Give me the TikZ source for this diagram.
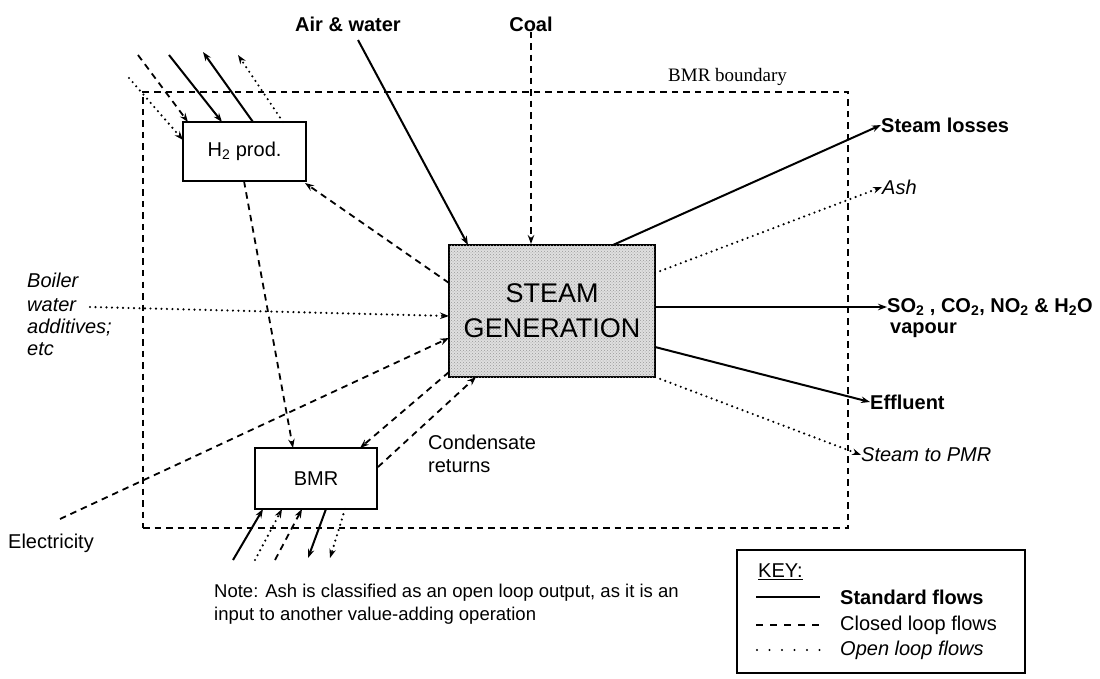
\documentclass[tikz,border=0pt]{standalone}
\usepackage{fontspec}
\setmainfont{Liberation Sans}
\newfontfamily\bndfont{Liberation Serif}
\usetikzlibrary{arrows.meta,patterns}
\begin{document}
\begin{tikzpicture}[x=1pt,y=-1pt,
  tip/.style={-{Stealth[length=9pt,width=6.5pt]}},
  std/.style={line width=2pt,tip},
  cls/.style={line width=1.8pt,dash pattern=on 6.5pt off 5pt,tip},
  opn/.style={line width=2.4pt,line cap=round,dash pattern=on 0pt off 5.5pt,tip},
  box/.style={draw,line width=2pt,fill=white,inner sep=0pt},
  lbl/.style={inner sep=0pt,font=\fontsize{20}{23}\selectfont},
  blbl/.style={inner sep=0pt,font=\bfseries\fontsize{20}{23}\selectfont},
  ilbl/.style={inner sep=0pt,font=\itshape\fontsize{20}{23}\selectfont},
  nlbl/.style={inner sep=0pt,font=\fontsize{18.5}{21}\selectfont,anchor=west}]
\useasboundingbox[fill=white] (0,0) rectangle (1100,679);

% boundary
\node[draw,line width=1.5pt,dash pattern=on 6.5pt off 5pt,minimum width=705pt,minimum height=436pt,inner sep=0pt] (boundary) at (495.5,310) {};
\node[inner sep=0pt,anchor=west,font=\bndfont\fontsize{19}{22}\selectfont] (bndlbl) at (668,77) {BMR boundary};

% boxes
\node[box,fill=gray!25,postaction={pattern=crosshatch dots,pattern color=gray!80},minimum width=206pt,minimum height=132pt,align=center,font=\fontsize{27}{35}\selectfont] (steam) at (552,311) {STEAM\\GENERATION};
\node[box,lbl,minimum width=123pt,minimum height=59pt] (h2) at (244.5,151.5) {H\textsubscript{2} prod.};
\node[box,lbl,minimum width=122pt,minimum height=61pt] (bmr) at (316,478.5) {BMR};

% top inputs
\node[blbl] (air) at (348,24) {Air \& water};
\node[blbl] (coal) at (531,24) {Coal};
\coordinate (airS) at (358,40);
\coordinate (airE) at (468,245);
\draw[std] (airS) -- (airE);
\draw[cls] (coal.south) -- (coal.south |- steam.north);

% right outputs
\node[blbl,anchor=west] (sl) at (881,125) {Steam losses};
\node[ilbl,anchor=west] (ash) at (882,187) {Ash};
\node[blbl,anchor=west] (so2) at (887,307) {SO\textsubscript{2} , CO\textsubscript{2}, NO\textsubscript{2} \& H\textsubscript{2}O};
\node[blbl,anchor=west] (vap) at (890,330) {vapour};
\node[blbl,anchor=west] (eff) at (870,402) {Effluent};
\node[ilbl,anchor=west] (pmr) at (861,455) {Steam to PMR};
\coordinate (sgSL) at (613,245);
\coordinate (sgAsh) at (655,273);
\coordinate (sgEff) at (655,347);
\coordinate (sgPMR) at (655,377);
\draw[std] (sgSL) -- (sl.west);
\draw[opn] (sgAsh) -- (ash.west);
\draw[std] (steam.east |- so2.west) -- (so2.west);
\draw[std] (sgEff) -- (eff.west);
\draw[opn] (sgPMR) -- (pmr.west);

% left inputs
\node[ilbl,anchor=west] (boil1) at (27,280) {Boiler};
\node[ilbl,anchor=west] (boil2) at (27,305) {water};
\node[ilbl,anchor=west] (boil3) at (27,328) {additives;};
\node[ilbl,anchor=west] (boil4) at (27,349) {etc};
\coordinate (bwS) at (90,307);
\coordinate (bwE) at (449,316);
\draw[opn] (bwS) -- (bwE);
\node[lbl,anchor=west] (elec) at (8,543) {Electricity};
\coordinate (elS) at (60,519);
\coordinate (elE) at (449,338);
\draw[cls] (elS) -- (elE);

% H2 production flows
\coordinate (h2a) at (138,55);   \coordinate (h2aE) at (188,122);
\coordinate (h2b) at (129,78);   \coordinate (h2bE) at (183,140);
\coordinate (h2c) at (169,55);   \coordinate (h2cE) at (222,122);
\coordinate (h2d) at (253,122);  \coordinate (h2dE) at (203,52);
\coordinate (h2e) at (283,122);  \coordinate (h2eE) at (238,55);
\draw[cls] (h2a) -- (h2aE);
\draw[opn] (h2b) -- (h2bE);
\draw[std] (h2c) -- (h2cE);
\draw[std] (h2d) -- (h2dE);
\draw[opn] (h2e) -- (h2eE);

% internal closed loops
\coordinate (sgH2) at (449,283);
\coordinate (h2SE) at (305,183);
\draw[cls] (sgH2) -- (h2SE);
\coordinate (h2Bot) at (244,181);
\coordinate (bmrTopL) at (293,448);
\draw[cls] (h2Bot) -- (bmrTopL);
\coordinate (sgBL) at (449,372);
\coordinate (bmrTopR) at (360,448);
\draw[cls] (sgBL) -- (bmrTopR);
\coordinate (bmrR) at (378,467);
\coordinate (sgBot) at (476,377);
\draw[cls] (bmrR) -- (sgBot);
\node[lbl,anchor=west] (cond1) at (428,442) {Condensate};
\node[lbl,anchor=west] (cond2) at (428,466) {returns};

% BMR bottom flows
\coordinate (b1S) at (233,560); \coordinate (b1E) at (263,509);
\coordinate (b2S) at (255,560); \coordinate (b2E) at (282,509);
\coordinate (b3S) at (275,560); \coordinate (b3E) at (302,509);
\coordinate (b4S) at (326,509); \coordinate (b4E) at (308,558);
\coordinate (b5S) at (345,509); \coordinate (b5E) at (330,558);
\draw[std] (b1S) -- (b1E);
\draw[opn] (b2S) -- (b2E);
\draw[cls] (b3S) -- (b3E);
\draw[std] (b4S) -- (b4E);
\draw[opn] (b5S) -- (b5E);

% note
\node[nlbl] (note1) at (214,593) {Note: Ash is classified as an open loop output, as it is an};
\node[nlbl] (note2) at (214,616) {input to another value-adding operation};

% key
\node[draw,line width=1.5pt,minimum width=288pt,minimum height=123pt,inner sep=0pt,anchor=north west] (key) at (736,549) {};
\node[lbl,anchor=west] (keyt) at (758,572) {\underline{KEY:}};
\node[blbl,anchor=west] (k1) at (840,597) {Standard flows};
\node[lbl,anchor=west] (k2) at (840,625) {Closed loop flows};
\node[ilbl,anchor=west] (k3) at (840,650) {Open loop flows};
\coordinate (k1a) at (756,597); \coordinate (k1b) at (820,597);
\coordinate (k2a) at (756,625); \coordinate (k2b) at (820,625);
\coordinate (k3a) at (757,650); \coordinate (k3b) at (820,650);
\draw[line width=2pt] (k1a) -- (k1b);
\draw[line width=1.8pt,dash pattern=on 7pt off 7pt] (k2a) -- (k2b);
\draw[line width=2.4pt,line cap=round,dash pattern=on 0pt off 12.5pt] (k3a) -- (k3b);
\end{tikzpicture}
\end{document}
